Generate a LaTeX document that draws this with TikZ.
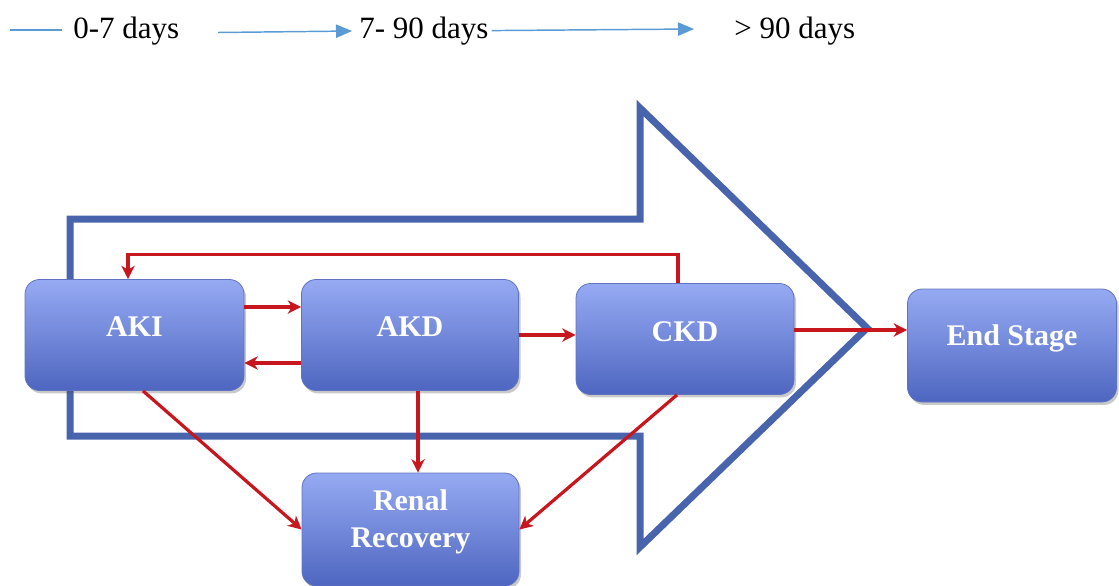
\documentclass[tikz,border=0pt]{standalone}
\usepackage{fontspec}
\setmainfont{Liberation Serif}
\usetikzlibrary{arrows.meta,shadows,calc}
\definecolor{arrowblue}{RGB}{72,100,172}
\definecolor{boxtop}{RGB}{150,170,243}
\definecolor{boxbot}{RGB}{78,102,192}
\definecolor{boxedge}{RGB}{95,115,195}
\definecolor{myred}{RGB}{200,22,30}
\definecolor{topblue}{RGB}{91,155,213}
\begin{document}
\begin{tikzpicture}[x=0.75pt,y=-0.75pt,
  bigarrow/.style={draw=arrowblue,line width=5.25pt,line join=miter},
  box/.style={rounded corners=11pt,draw=boxedge,line width=0.6pt,
    top color=boxtop,bottom color=boxbot,inner sep=0pt,
    drop shadow={shadow xshift=1.5pt,shadow yshift=-2.2pt,opacity=0.3,fill=black!70}},
  boxtext/.style={text=white,inner sep=0pt,align=center,
    font=\bfseries\fontsize{22.5}{28}\selectfont},
  toptext/.style={inner sep=0pt,anchor=base west,font=\fontsize{23.25}{28}\selectfont},
  topline/.style={draw=topblue,line width=1.1pt},
  toparrow/.style={topline,-{Triangle[length=12pt,width=10pt]}},
  redarr/.style={draw=myred,line width=2.4pt,-{Stealth[length=10pt,width=10pt,inset=3pt]}}
]
\useasboundingbox (0,0) rectangle (1119,585);

% top time line
\node[toptext] (t1) at (73,39) {0-7 days};
\node[toptext] (t2) at (359,39) {7- 90 days};
\node[toptext] (t3) at (734,39) {> 90 days};
\coordinate (c0) at (10,30);
\coordinate (c1) at (218,32.5);
\coordinate (c2) at (352,31);
\coordinate (c3) at (694,29);
\draw[topline] (c0) -- (c0 -| 62,0);
\draw[toparrow] (c1) -- (c2);
\draw[toparrow] ($(t2.east)+(3,-1)$) -- (c3);

% big arrow outline
\draw[bigarrow] (70,219) -- (640,219) -- (640,108) -- (867,328) -- (640,547)
  -- (640,436) -- (70,436) -- cycle;

% boxes
\node[box,minimum width=219*0.75pt,minimum height=111*0.75pt] (AKI) at (134.5,335) {};
\node[box,minimum width=217*0.75pt,minimum height=111*0.75pt] (AKD) at (410,335) {};
\node[box,minimum width=218*0.75pt,minimum height=111*0.75pt] (CKD) at (685,339) {};
\node[box,minimum width=209*0.75pt,minimum height=113*0.75pt] (END) at (1012,345.5) {};
\node[box,minimum width=217*0.75pt,minimum height=113*0.75pt] (REN) at (410.5,529.5) {};

\node[boxtext] (AKIt) at ($(AKI.center)+(0,-8)$) {AKI};
\node[boxtext] (AKDt) at ($(AKD.center)+(0,-8)$) {AKD};
\node[boxtext] (CKDt) at ($(CKD.center)+(0,-7)$) {CKD};
\node[boxtext] (ENDt) at ($(END.center)+(0,-7)$) {End Stage};
\node[boxtext] (RENt) at ($(REN.center)+(0,-8)$) {Renal\\Recovery};

% red connectors
\draw[redarr] ($(AKI.east)+(0,-28)$) -- ($(AKD.west)+(0,-28)$);
\draw[redarr] ($(AKD.west)+(0,28)$) -- ($(AKI.east)+(0,28)$);
\draw[redarr] (AKD.east) -- (AKD.east -| CKD.west);
\draw[redarr] ($(CKD.east)+(0,-9)$) -- ($(END.west)+(0,-15.5)$);
\draw[redarr] ($(CKD.north)+(-7,0)$) |- ($(AKI.north)+(-6.5,-25)$) -- ($(AKI.north)+(-6.5,0)$);
\draw[redarr] ($(AKD.south)+(8,0)$) -- ($(REN.north)+(7.5,0)$);
\draw[redarr] ($(AKI.south)+(8.5,0)$) -- (REN.west);
\draw[redarr] ($(CKD.south)+(-8,0)$) -- (REN.east);
\end{tikzpicture}
\end{document}
